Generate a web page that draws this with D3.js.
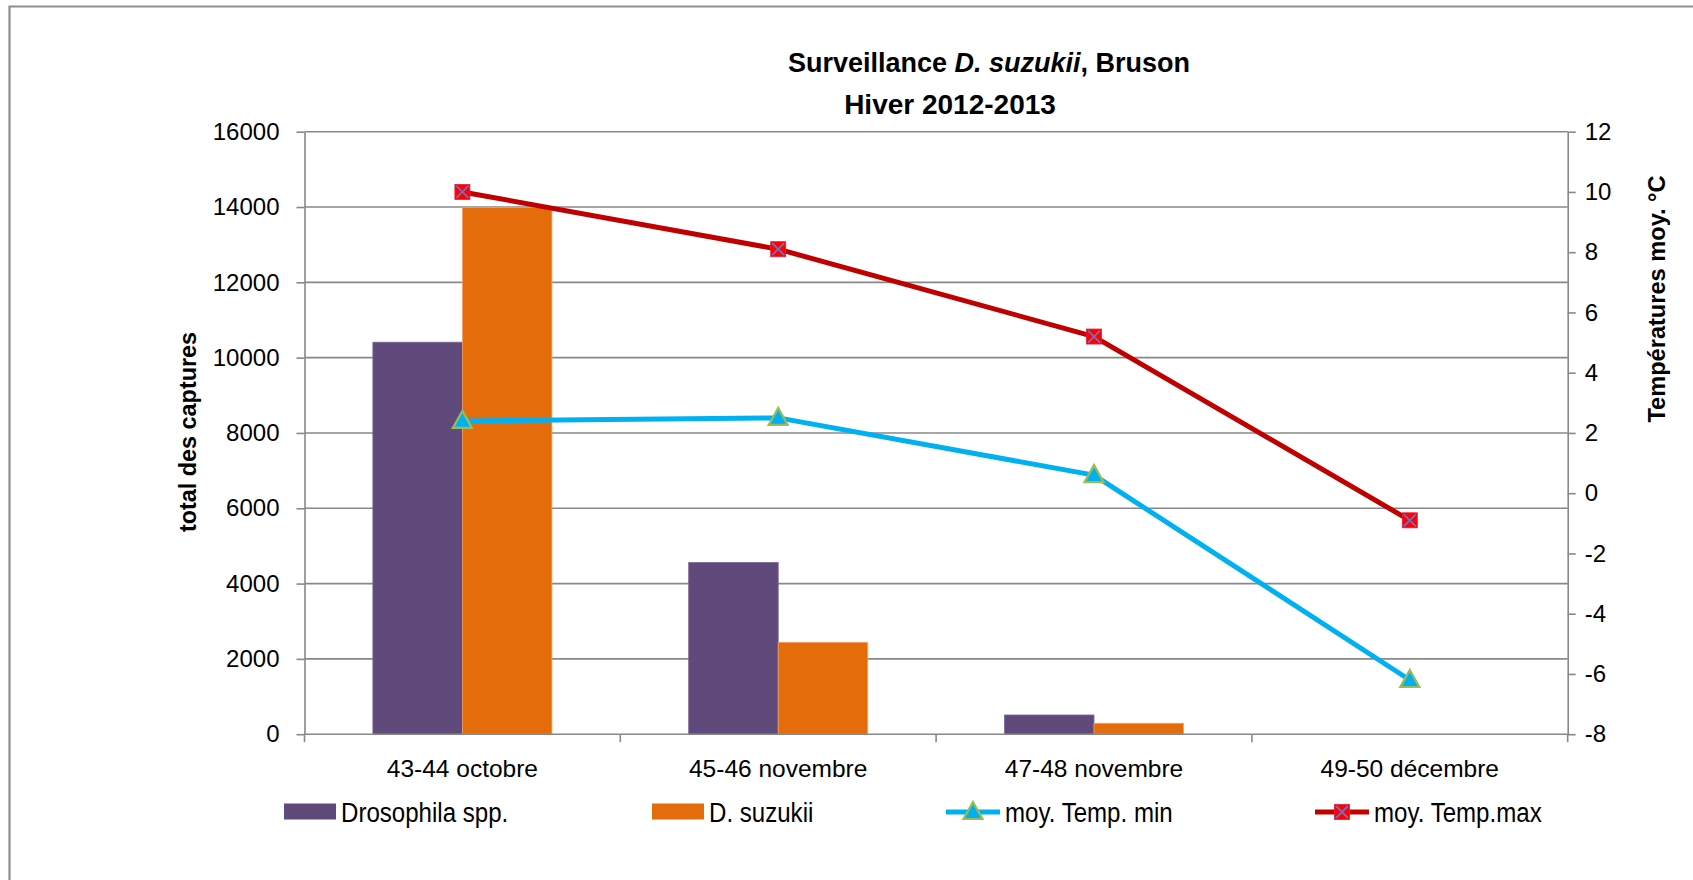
<!DOCTYPE html>
<html>
<head>
<meta charset="utf-8">
<script src="https://cdn.jsdelivr.net/npm/d3@7"></script>
<style>
  html, body { margin: 0; padding: 0; background: #fff; }
  svg { display: block; }
</style>
</head>
<body>
<svg id="chart" width="1693" height="880"></svg>
<script>
// ---- data ----
const categories = ["43-44 octobre", "45-46 novembre", "47-48 novembre", "49-50 décembre"];
const drosophila = [10410, 4560, 510, 0];
const suzukii = [13990, 2440, 290, 0];
const tempMin = [2.4, 2.5, 0.6, -6.2];
const tempMax = [10.0, 8.1, 5.2, -0.9];
const leftTicks = [0, 2000, 4000, 6000, 8000, 10000, 12000, 14000, 16000];
const rightTicks = [-8, -6, -4, -2, 0, 2, 4, 6, 8, 10, 12];
const barSeries = ["Drosophila spp.", "D. suzukii"];
const lineSeries = ["moy. Temp. min", "moy. Temp.max"];

// ---- styles ----
const colPurple = "#604A7B";
const colOrange = "#E46C0A";
const colBlue = "#00B0F0";
const colRed = "#C00000";
const gridCol = "#888888";
const font = "'Liberation Sans', Arial, sans-serif";

const svg = d3.select("#chart");
const m = { left: 304.5, right: 1567.7, top: 131.7, bottom: 734.2 };

// outer frame
svg.append("path")
  .attr("d", `M9.5,900 L9.5,6.5 L1700,6.5`)
  .attr("fill", "none").attr("stroke", "#8e8e8e").attr("stroke-width", 2.2);

const x0 = d3.scaleBand().domain(categories).range([m.left, m.right]).padding(0);
const x1 = d3.scaleBand().domain(barSeries).range([0, x0.bandwidth()]).paddingInner(0).paddingOuter(0.764);
const yL = d3.scaleLinear().domain([0, 16000]).range([m.bottom, m.top]);
const yR = d3.scaleLinear().domain([-8, 12]).range([m.bottom, m.top]);

// gridlines
svg.append("g").selectAll("line").data(leftTicks.filter(d => d > 0)).join("line")
  .attr("x1", m.left).attr("x2", m.right)
  .attr("y1", d => yL(d)).attr("y2", d => yL(d))
  .attr("stroke", gridCol).attr("stroke-width", 1.6);

// bars
const barData = [];
categories.forEach((c, i) => {
  barData.push({ c, s: barSeries[0], v: drosophila[i], col: colPurple, stroke: "#7a6794" });
  barData.push({ c, s: barSeries[1], v: suzukii[i], col: colOrange, stroke: "#f0a070" });
});
svg.append("g").selectAll("rect").data(barData.filter(d => d.v > 0)).join("rect")
  .attr("x", d => x0(d.c) + x1(d.s))
  .attr("width", x1.bandwidth())
  .attr("y", d => yL(d.v))
  .attr("height", d => yL(0) - yL(d.v))
  .attr("fill", d => d.col)
  .attr("stroke", d => d.stroke).attr("stroke-width", 0.8);

// axes
const axisStyle = g => {
  g.select(".domain").attr("stroke", gridCol).attr("stroke-width", 1.6);
  g.selectAll(".tick line").attr("stroke", gridCol).attr("stroke-width", 1.6);
  g.selectAll(".tick text").attr("font-family", font).attr("font-size", 24).attr("fill", "#000");
};
const fmt = d => String(d);
svg.append("g").attr("transform", `translate(${m.left},0)`)
  .call(d3.axisLeft(yL).tickValues(leftTicks).tickSize(8).tickSizeOuter(0).tickPadding(17).tickFormat(fmt))
  .call(axisStyle);
svg.append("g").attr("transform", `translate(${m.right},0)`)
  .call(d3.axisRight(yR).tickValues(rightTicks).tickSize(8).tickSizeOuter(0).tickPadding(9).tickFormat(fmt))
  .call(axisStyle);

// bottom axis with ticks at category boundaries
const bottomG = svg.append("g").attr("transform", `translate(0,${m.bottom})`);
bottomG.append("line").attr("x1", m.left).attr("x2", m.right).attr("y1", 0).attr("y2", 0)
  .attr("stroke", gridCol).attr("stroke-width", 1.6);
const bounds = categories.map(c => x0(c)).concat([m.right]);
bottomG.selectAll("line.tk").data(bounds).join("line").attr("class", "tk")
  .attr("x1", d => d).attr("x2", d => d).attr("y1", 0).attr("y2", 8)
  .attr("stroke", gridCol).attr("stroke-width", 1.6);
bottomG.selectAll("text").data(categories).join("text")
  .attr("x", d => x0(d) + x0.bandwidth() / 2).attr("y", 43)
  .attr("text-anchor", "middle").attr("font-family", font).attr("font-size", 24.5).attr("fill", "#000")
  .text(d => d);

// lines
const cx = c => x0(c) + x0.bandwidth() / 2;
const lineGen = yScale => d3.line().x((d, i) => cx(categories[i])).y(d => yScale(d));
svg.append("path").datum(tempMin).attr("d", lineGen(yR))
  .attr("fill", "none").attr("stroke", colBlue).attr("stroke-width", 5).attr("stroke-linejoin", "round");
svg.append("path").datum(tempMax).attr("d", lineGen(yR))
  .attr("fill", "none").attr("stroke", colRed).attr("stroke-width", 5).attr("stroke-linejoin", "round");

// markers
const tri = (x, y) => `M${x},${y - 10} L${x + 9.5},${y + 7} L${x - 9.5},${y + 7} Z`;
const sq = (g, x, y) => {
  g.append("rect").attr("x", x - 7.5).attr("y", y - 7.5).attr("width", 15).attr("height", 15)
    .attr("fill", "#FF0000").attr("stroke", "#e81c3a").attr("stroke-width", 0.8);
  g.append("path").attr("d", `M${x - 6},${y - 6} L${x + 6},${y + 6} M${x + 6},${y - 6} L${x - 6},${y + 6}`)
    .attr("stroke", "#7070c0").attr("stroke-width", 1.8);
};
const mk = svg.append("g");
tempMin.forEach((v, i) => {
  mk.append("path").attr("d", tri(cx(categories[i]), yR(v)))
    .attr("fill", colBlue).attr("stroke", "#9BBB59").attr("stroke-width", 2.2);
});
tempMax.forEach((v, i) => sq(mk, cx(categories[i]), yR(v)));

// titles
const title = svg.append("text").attr("x", 989).attr("y", 72).attr("text-anchor", "middle")
  .attr("font-family", font).attr("font-size", 27).attr("font-weight", "bold").attr("fill", "#000");
title.append("tspan").text("Surveillance ");
title.append("tspan").attr("font-style", "italic").text("D. suzukii");
title.append("tspan").text(", Bruson");
svg.append("text").attr("x", 950).attr("y", 114).attr("text-anchor", "middle")
  .attr("font-family", font).attr("font-size", 28).attr("font-weight", "bold").attr("fill", "#000")
  .text("Hiver 2012-2013");

svg.append("text").attr("transform", `translate(196,432) rotate(-90)`).attr("text-anchor", "middle")
  .attr("font-family", font).attr("font-size", 23.4).attr("font-weight", "bold").attr("fill", "#000")
  .text("total des captures");
svg.append("text").attr("transform", `translate(1665,299) rotate(-90)`).attr("text-anchor", "middle")
  .attr("font-family", font).attr("font-size", 23.6).attr("font-weight", "bold").attr("fill", "#000")
  .text("Températures moy. °C");

// legend
const lg = svg.append("g");
const ly = 812;
const legItems = [
  { name: barSeries[0], type: "bar", col: colPurple, x: 284 },
  { name: barSeries[1], type: "bar", col: colOrange, x: 652 },
  { name: lineSeries[0], type: "min", col: colBlue, x: 946 },
  { name: lineSeries[1], type: "max", col: colRed, x: 1315 }
];
legItems.forEach(d => {
  if (d.type === "bar") {
    lg.append("rect").attr("x", d.x).attr("y", ly - 8.5).attr("width", 52).attr("height", 16).attr("fill", d.col);
  } else {
    lg.append("line").attr("x1", d.x).attr("x2", d.x + 54).attr("y1", ly).attr("y2", ly)
      .attr("stroke", d.col).attr("stroke-width", 5);
    if (d.type === "min") {
      lg.append("path").attr("d", tri(d.x + 27, ly)).attr("fill", colBlue).attr("stroke", "#9BBB59").attr("stroke-width", 2.2);
    } else {
      sq(lg, d.x + 27, ly);
    }
  }
  const tx = d.x + (d.type === "bar" ? 57 : 59);
  lg.append("text").attr("transform", `translate(${tx},${ly + 10}) scale(0.86,1)`)
    .attr("font-family", font).attr("font-size", 28).attr("fill", "#000").text(d.name);
});
</script>
</body>
</html>
